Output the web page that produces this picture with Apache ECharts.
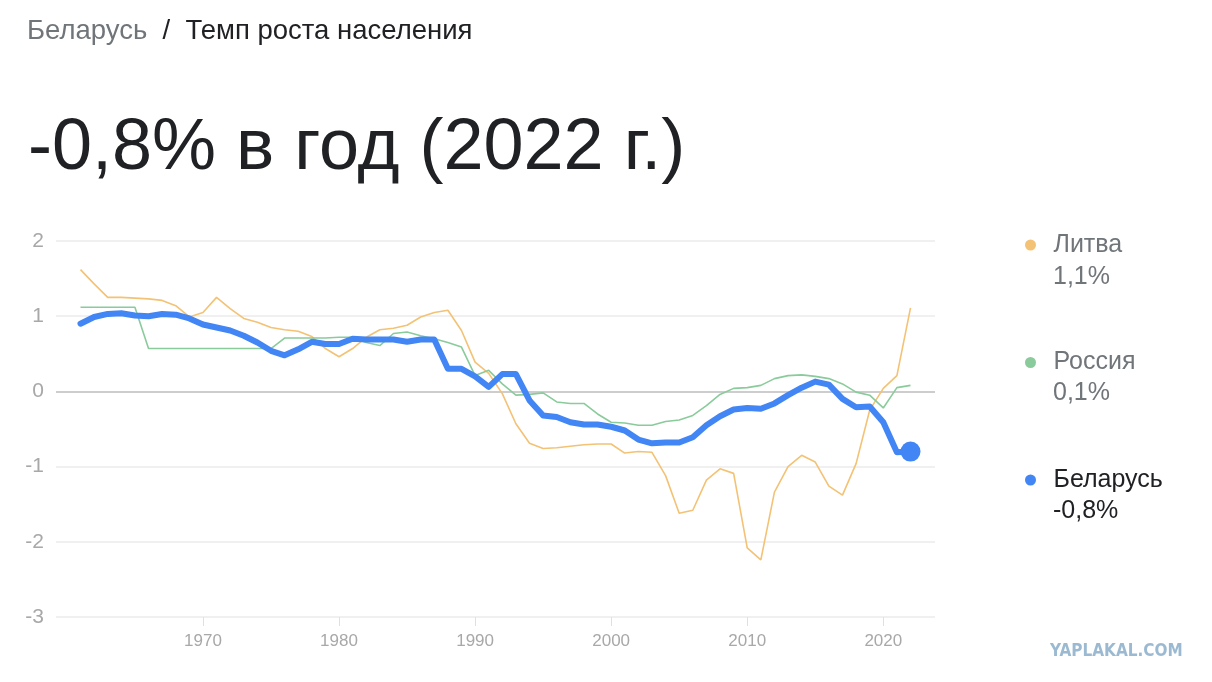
<!DOCTYPE html>
<html>
<head>
<meta charset="utf-8">
<script src="https://cdn.jsdelivr.net/npm/echarts@6/dist/echarts.min.js"></script>
<style>
html,body{margin:0;padding:0;background:#fff;}
#c{width:1212px;height:682px;}
</style>
</head>
<body>
<div id="c"></div>
<script>
const years = [];
for (let y = 1961; y <= 2022; y++) years.push(y);

const lithuania = [1.62,1.43,1.25,1.25,1.24,1.23,1.21,1.14,0.99,1.05,
  1.25,1.10,0.97,0.92,0.85,0.82,0.80,0.73,0.57,0.46,
  0.57,0.72,0.82,0.84,0.88,0.99,1.05,1.08,0.81,0.39,
  0.24,-0.03,-0.43,-0.69,-0.76,-0.75,-0.73,-0.71,-0.70,-0.70,
  -0.82,-0.80,-0.81,-1.12,-1.62,-1.58,-1.18,-1.03,-1.09,-2.08,
  -2.24,-1.34,-1.00,-0.85,-0.94,-1.26,-1.38,-0.96,-0.25,0.04,
  0.21,1.11];

const russia = [1.12,1.12,1.12,1.12,1.12,0.57,0.57,0.57,0.57,0.57,
  0.57,0.57,0.57,0.57,0.57,0.71,0.71,0.71,0.71,0.72,
  0.72,0.65,0.61,0.77,0.79,0.74,0.70,0.65,0.59,0.21,
  0.28,0.10,-0.05,-0.04,-0.02,-0.14,-0.16,-0.16,-0.30,-0.41,
  -0.42,-0.45,-0.45,-0.40,-0.38,-0.32,-0.19,-0.04,0.04,0.05,
  0.08,0.17,0.21,0.22,0.20,0.17,0.10,-0.01,-0.05,-0.22,
  0.05,0.08];

const belarus = [0.90,0.99,1.03,1.04,1.01,1.00,1.03,1.02,0.97,0.89,
  0.85,0.81,0.74,0.65,0.54,0.48,0.56,0.66,0.63,0.63,
  0.70,0.69,0.69,0.69,0.66,0.69,0.69,0.30,0.30,0.20,
  0.06,0.23,0.23,-0.12,-0.32,-0.34,-0.41,-0.44,-0.44,-0.47,
  -0.52,-0.64,-0.69,-0.68,-0.68,-0.61,-0.45,-0.33,-0.24,-0.22,
  -0.23,-0.16,-0.05,0.05,0.13,0.09,-0.10,-0.21,-0.20,-0.41,
  -0.81,-0.80];

const xTicks = [1970,1980,1990,2000,2010,2020];
const yTicks = [-3,-2,-1,0,1,2];

const names = ['Литва','Россия','Беларусь'];
const colors = ['#f3c274','#8acb9b','#4285f4'];

function fmt(v){ return v.toFixed(1).replace('.', ','); }
function pairs(arr){ return arr.map((v,i)=>[years[i], v]); }

const lastYear = years[years.length-1];
const lastVals = [lithuania, russia, belarus].map(a => a[a.length-1]);

const chart = echarts.init(document.getElementById('c'));
const FONT = '"Liberation Sans", Arial, sans-serif';

const belarusData = pairs(belarus).map((p,i,arr)=> i === arr.length-1
  ? {value:p, symbol:'circle', symbolSize:20, itemStyle:{color:'#4285f4'}}
  : {value:p, symbol:'none'});

chart.setOption({
  backgroundColor:'#fff',
  animation:false,
  textStyle:{fontFamily:FONT},
  title:[
    {
      left:22, top:12,
      text:'{a|Беларусь}{s|  /  }{b|Темп роста населения}',
      textStyle:{fontWeight:'normal', rich:{
        a:{fontSize:27.5,color:'#70757a',fontFamily:FONT,fontWeight:'normal'},
        s:{fontSize:27.5,color:'#202124',fontFamily:FONT,fontWeight:'normal'},
        b:{fontSize:27.5,color:'#202124',fontFamily:FONT,fontWeight:'normal'}
      }}
    },
    {
      left:23, top:108,
      text: fmt(lastVals[2]) + '% в год (' + lastYear + ' г.)',
      textStyle:{fontSize:72,color:'#202124',fontWeight:'normal',fontFamily:FONT}
    }
  ],
  legend:{
    orient:'vertical',
    left:1020, top:226,
    itemWidth:36, itemHeight:11,
    itemGap:89.5,
    icon:'circle',
    selectedMode:false,
    data:[
      {name:names[0], textStyle:{color:'#70757a'}},
      {name:names[1], textStyle:{color:'#70757a'}},
      {name:names[2], textStyle:{color:'#202124'}}
    ],
    textStyle:{fontSize:25,lineHeight:28,fontFamily:FONT}
  },
  graphic:[
    {type:'text', left:1053, top:265, style:{text:fmt(lastVals[0])+'%', fontSize:25, fill:'#70757a', fontFamily:FONT}},
    {type:'text', left:1053, top:381, style:{text:fmt(lastVals[1])+'%', fontSize:25, fill:'#70757a', fontFamily:FONT}},
    {type:'text', left:1053, top:499, style:{text:fmt(lastVals[2])+'%', fontSize:25, fill:'#202124', fontFamily:FONT}},
    {type:'text', left:1050, top:643, style:{text:'YAPLAKAL.COM', fontSize:17, fontWeight:'bold', fill:'#9bbad2', fontFamily:'"DejaVu Sans Condensed", "Liberation Sans Narrow", sans-serif'}}
  ],
  grid:{left:56, right:277, top:241, bottom:65, containLabel:false},
  xAxis:{
    type:'value',
    min:1959.2, max:2023.8,
    axisLine:{show:false, onZero:false},
    splitLine:{show:false},
    axisTick:{show:true, customValues:xTicks, length:9, lineStyle:{color:'#e0e0e0', width:1}},
    axisLabel:{customValues:xTicks, formatter:(v)=>String(v), color:'#a8a8a8', fontSize:17, margin:16, fontFamily:FONT}
  },
  yAxis:{
    type:'value',
    min:-3, max:2, interval:1,
    axisLine:{show:false},
    axisTick:{show:false},
    axisLabel:{color:'#a8a8a8', fontSize:21, margin:12, fontFamily:FONT},
    splitLine:{lineStyle:{color:['#ebebeb','#ebebeb','#ebebeb','#bdbdbd','#ebebeb','#ebebeb'], width:1.5}}
  },
  series:[
    {name:names[0], type:'line', data:pairs(lithuania), showSymbol:false, symbol:'none',
      color:colors[0], lineStyle:{width:1.6, color:colors[0]}, z:2},
    {name:names[1], type:'line', data:pairs(russia), showSymbol:false, symbol:'none',
      color:colors[1], lineStyle:{width:1.6, color:colors[1]}, z:3},
    {name:names[2], type:'line', data:belarusData, showSymbol:true, symbol:'none',
      color:colors[2], lineStyle:{width:6, color:colors[2], join:'round', cap:'round'}, z:4}
  ]
});
</script>
</body>
</html>
